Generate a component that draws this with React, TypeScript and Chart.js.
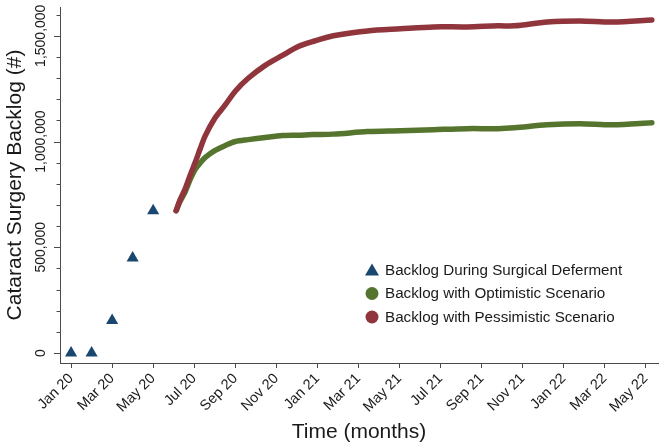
import React, { useEffect, useRef } from 'react';
import { Chart, registerables } from 'chart.js';

Chart.register(...registerables);

// ---------- data ----------
const xTickMonths = [0, 2, 4, 6, 8, 10, 12, 14, 16, 18, 20, 22, 24, 26, 28];
const xTickLabels = ['Jan 20', 'Mar 20', 'May 20', 'Jul 20', 'Sep 20', 'Nov 20', 'Jan 21', 'Mar 21', 'May 21', 'Jul 21', 'Sep 21', 'Nov 21', 'Jan 22', 'Mar 22', 'May 22'];

const yMajorTicks = [0, 500000, 1000000, 1500000];
const yTickLabels = ['0', '500,000', '1,000,000', '1,500,000'];
const yMinorTicks = [100000, 200000, 300000, 400000, 600000, 700000, 800000, 900000, 1100000, 1200000, 1300000, 1400000, 1600000];

const defermentMonths = [0, 1, 2, 3, 4];
const defermentBacklog = [0, 0, 154000, 449000, 673000];

const scenarioMonths = [5.12, 5.3, 5.56, 5.8, 6.05, 6.3, 6.54, 7.02, 7.51, 8.0, 8.63, 9.46, 10.3, 11.07, 11.76, 12.78, 14.44, 16.05, 17.66, 19.3, 20.8, 21.6, 23.2, 24.8, 26.4, 28.3];
const optimisticBacklog = [673000, 715000, 762000, 820000, 869000, 900000, 925000, 958000, 981000, 1000000, 1009000, 1019000, 1028000, 1030000, 1033000, 1035000, 1047000, 1051000, 1056000, 1061000, 1061000, 1065000, 1079000, 1084000, 1079000, 1089000];
const pessimisticBacklog = [673000, 722000, 776000, 840000, 902000, 968000, 1028000, 1112000, 1173000, 1238000, 1299000, 1360000, 1407000, 1449000, 1472000, 1500000, 1523000, 1533000, 1542000, 1542000, 1547000, 1547000, 1565000, 1570000, 1565000, 1575000];

const seriesNames = ['Backlog During Surgical Deferment', 'Backlog with Optimistic Scenario', 'Backlog with Pessimistic Scenario'];

// ---------- styles ----------
const FONT = "'Liberation Sans', Arial, Helvetica, sans-serif";
const AXIS = '#4a4a4a';
const TEXT = '#1a1a1a';
const NAVY = '#1a476f';
const GREEN = '#55752f';
const MAROON = '#90353b';

const yAxisDecor = {
  id: 'yAxisDecor',
  afterDraw(chart: any) {
    const ctx = chart.ctx;
    const ys = chart.scales.y;
    const x0 = ys.right;
    ctx.save();
    ctx.strokeStyle = AXIS;
    ctx.lineWidth = 1;
    yMinorTicks.forEach((v) => {
      const p = Math.round(ys.getPixelForValue(v)) + 0.5;
      ctx.beginPath();
      ctx.moveTo(x0 - 3.5, p);
      ctx.lineTo(x0, p);
      ctx.stroke();
    });
    yMajorTicks.forEach((v) => {
      const p = Math.round(ys.getPixelForValue(v)) + 0.5;
      ctx.beginPath();
      ctx.moveTo(x0 - 6, p);
      ctx.lineTo(x0, p);
      ctx.stroke();
    });
    ctx.fillStyle = TEXT;
    ctx.font = `14px ${FONT}`;
    ctx.textAlign = 'center';
    ctx.textBaseline = 'middle';
    yMajorTicks.forEach((v, i) => {
      const p = ys.getPixelForValue(v);
      ctx.save();
      ctx.translate(x0 - 19, p);
      ctx.rotate(-Math.PI / 2);
      ctx.fillText(yTickLabels[i], 0, 0);
      ctx.restore();
    });
    ctx.restore();
  },
};

const insideLegend = {
  id: 'insideLegend',
  afterDraw(chart: any) {
    const ctx = chart.ctx;
    const area = chart.chartArea;
    const mx = area.left + 312;
    const tx = area.left + 325;
    const rows = [270, 293.5, 317];
    const colors = [NAVY, GREEN, MAROON];
    ctx.save();
    ctx.font = `15.2px ${FONT}`;
    ctx.textAlign = 'left';
    ctx.textBaseline = 'middle';
    rows.forEach((ry, i) => {
      ctx.fillStyle = colors[i];
      ctx.beginPath();
      if (i === 0) {
        ctx.moveTo(mx, ry - 6.5);
        ctx.lineTo(mx + 7, ry + 5.5);
        ctx.lineTo(mx - 7, ry + 5.5);
        ctx.closePath();
      } else {
        ctx.arc(mx, ry, 6.5, 0, Math.PI * 2);
      }
      ctx.fill();
      ctx.fillStyle = TEXT;
      ctx.fillText(seriesNames[i], tx, ry + 0.5);
    });
    ctx.restore();
  },
};

const zeroPad = (s: any) => {
  s.paddingTop = 0;
  s.paddingBottom = 0;
  s.paddingLeft = 0;
  s.paddingRight = 0;
};

export default function App() {
  const canvasRef = useRef<HTMLCanvasElement | null>(null);

  useEffect(() => {
    document.body.style.margin = '0';
    const canvas = canvasRef.current;
    if (!canvas) return;

    const toPts = (xs: number[], ys: number[]) => xs.map((x, i) => ({ x, y: ys[i] }));

    const chart = new Chart(canvas, {
      type: 'line',
      data: {
        datasets: [
          {
            label: seriesNames[0],
            data: toPts(defermentMonths, defermentBacklog),
            showLine: false,
            pointStyle: 'triangle',
            pointRadius: 7,
            backgroundColor: NAVY,
            borderColor: NAVY,
            pointBorderWidth: 0,
            order: 0,
          },
          {
            label: seriesNames[2],
            data: toPts(scenarioMonths, pessimisticBacklog),
            borderColor: MAROON,
            backgroundColor: MAROON,
            borderWidth: 5.5,
            borderCapStyle: 'round',
            borderJoinStyle: 'round',
            pointRadius: 0,
            tension: 0.3,
            order: 1,
          },
          {
            label: seriesNames[1],
            data: toPts(scenarioMonths, optimisticBacklog),
            borderColor: GREEN,
            backgroundColor: GREEN,
            borderWidth: 5.5,
            borderCapStyle: 'round',
            borderJoinStyle: 'round',
            pointRadius: 0,
            tension: 0.3,
            order: 2,
          },
        ],
      },
      options: {
        animation: false,
        responsive: false,
        maintainAspectRatio: false,
        layout: { padding: { top: 3, right: 8, left: 0, bottom: 0 } },
        plugins: { legend: { display: false }, tooltip: { enabled: false } },
        scales: {
          x: {
            type: 'linear',
            min: -0.54,
            max: 28.6,
            afterBuildTicks: (s: any) => {
              s.ticks = xTickMonths.map((v) => ({ value: v }));
            },
            afterFit: (s: any) => {
              s.height = 85;
              zeroPad(s);
            },
            ticks: {
              autoSkip: false,
              minRotation: 45,
              maxRotation: 45,
              padding: 2,
              color: TEXT,
              font: { size: 14.5, family: FONT },
              callback: (v: any) => {
                const i = xTickMonths.indexOf(Number(v));
                return i >= 0 ? xTickLabels[i] : '';
              },
            },
            grid: { drawOnChartArea: false, drawTicks: true, tickLength: 5, tickColor: AXIS },
            border: { display: true, color: AXIS, width: 1 },
            title: {
              display: true,
              text: 'Time (months)',
              color: TEXT,
              font: { size: 21, family: FONT },
              padding: { top: 0, bottom: 3 },
            },
          },
          y: {
            type: 'linear',
            min: -47000,
            max: 1636000,
            afterBuildTicks: (s: any) => {
              s.ticks = yMajorTicks.map((v) => ({ value: v }));
            },
            afterFit: (s: any) => {
              s.width = 60;
              zeroPad(s);
            },
            ticks: { display: false },
            grid: { display: false, drawTicks: false },
            border: { display: true, color: AXIS, width: 1 },
            title: {
              display: true,
              text: 'Cataract Surgery Backlog (#)',
              color: TEXT,
              font: { size: 21, family: FONT },
              padding: { top: 3, bottom: 0 },
            },
          },
        },
      },
      plugins: [yAxisDecor, insideLegend],
    } as any);

    return () => chart.destroy();
  }, []);

  return (
    <div style={{ width: 666, height: 448, background: '#fff' }}>
      <canvas ref={canvasRef} width={666} height={448} style={{ display: 'block' }} />
    </div>
  );
}
